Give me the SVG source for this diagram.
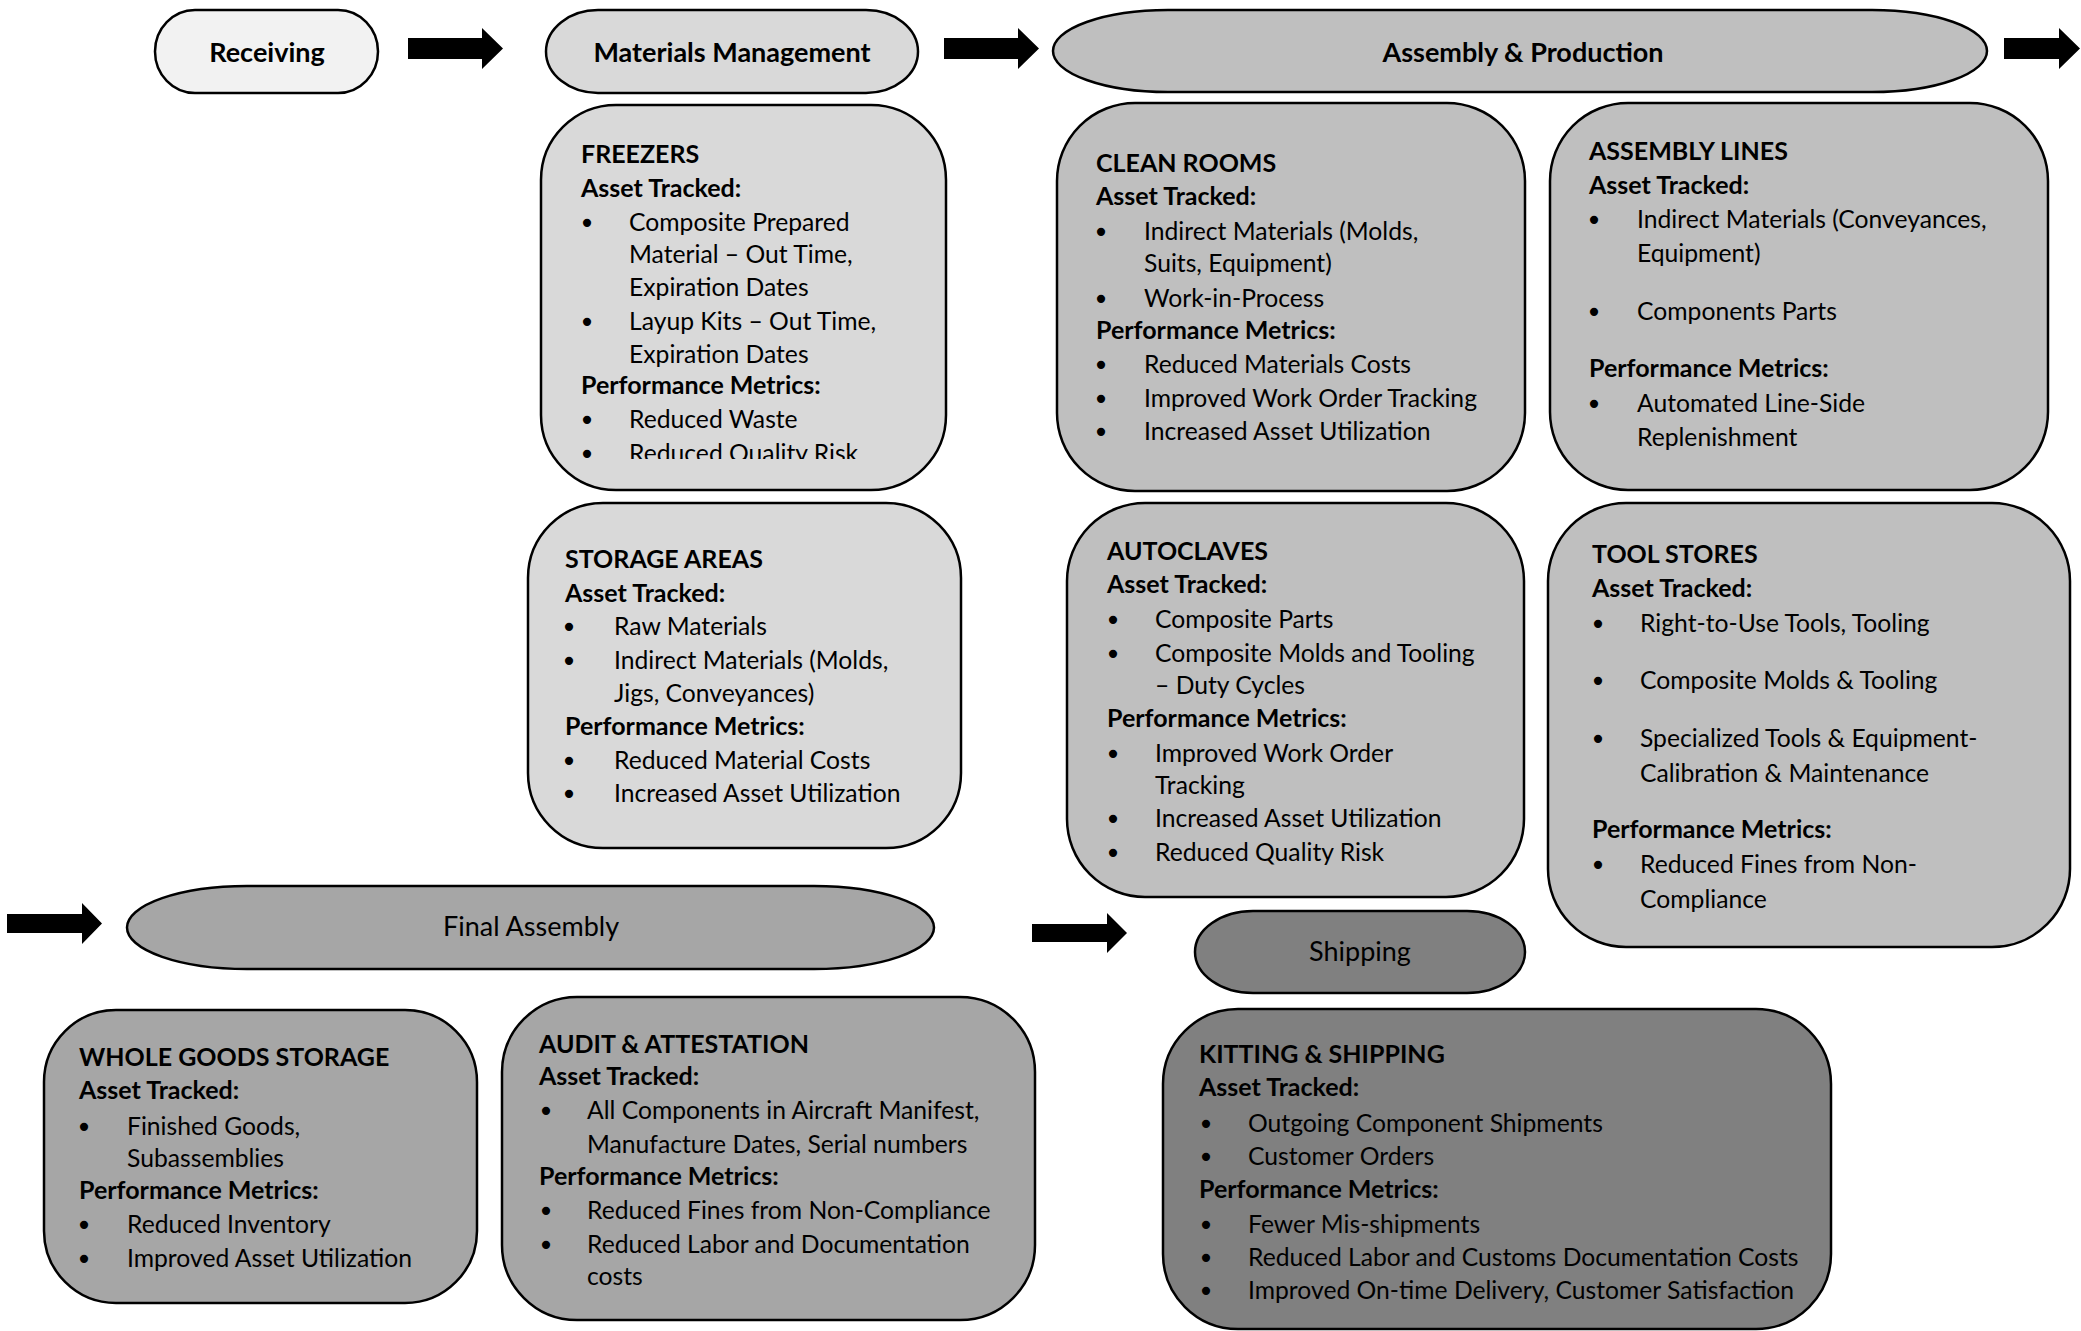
<svg xmlns="http://www.w3.org/2000/svg" width="2081" height="1331" viewBox="0 0 2081 1331">
  <style>
    .box { stroke: #000; stroke-width: 2.5; }
    .f1 { fill: #f2f2f2; }
    .f2 { fill: #d9d9d9; }
    .f3 { fill: #bfbfbf; }
    .f4 { fill: #a6a6a6; }
    .f5 { fill: #808080; }
    text { font-family: Lato, "Open Sans", sans-serif; fill: #000; }
    .t { font-size: 25px; font-weight: 700; }
    .h { font-size: 25px; font-weight: 700; }
    .b { font-size: 24.7px; }
    .dot { font-family: "DejaVu Sans", sans-serif; font-size: 28px; text-anchor: middle; }
    .hdr { font-size: 27px; font-weight: 700; text-anchor: middle; }
    .hdr2 { font-size: 27px; text-anchor: middle; }
    .arrow { fill: #000; }
  </style>
  <defs>
    <clipPath id="freezersClip">
      <rect x="530" y="95" width="430" height="364"/>
    </clipPath>
  </defs>
  <rect width="2081" height="1331" fill="#fff"/>

  <!-- flow arrows -->
  <g id="connectors">
    <path class="arrow" d="M408 38 H482 V28 L503 48.5 L482 69 V59 H408 Z"/>
    <path class="arrow" d="M944 38 H1018 V28 L1039 48.5 L1018 69 V59 H944 Z"/>
    <path class="arrow" d="M2004 38 H2059 V28 L2080 48.5 L2059 69 V59 H2004 Z"/>
    <path class="arrow" d="M7 914 H82 V903 L102 923.5 L82 944 V933 H7 Z"/>
    <path class="arrow" d="M1032 924 H1107 V913 L1127 933 L1107 953 V942 H1032 Z"/>
  </g>

  <!-- stage headers -->
  <g id="receiving">
    <rect class="box f1" x="155" y="10" width="223" height="83" rx="40" ry="41.5"/>
    <text class="hdr" x="267" y="62">Receiving</text>
  </g>
  <g id="materials-management">
    <rect class="box f2" x="546" y="10" width="372" height="83" rx="52" ry="41.5"/>
    <text class="hdr" x="732" y="62">Materials Management</text>
  </g>
  <g id="assembly-production">
    <rect class="box f3" x="1053" y="10" width="934" height="82" rx="115" ry="41"/>
    <text class="hdr" x="1523" y="62">Assembly &amp; Production</text>
  </g>
  <g id="final-assembly">
    <rect class="box f4" x="127" y="886" width="807" height="83" rx="120" ry="41.5"/>
    <text class="hdr2" x="531" y="936">Final Assembly</text>
  </g>
  <g id="shipping">
    <rect class="box f5" x="1195" y="911" width="330" height="82" rx="58" ry="41"/>
    <text class="hdr2" x="1360" y="961">Shipping</text>
  </g>

  <!-- detail boxes -->
  <g id="freezers">
    <rect class="box f2" x="541" y="105" width="405" height="385" rx="75" ry="75"/>
    <g clip-path="url(#freezersClip)">
      <text class="t" x="581" y="163">FREEZERS</text>
      <text class="h" x="581" y="197">Asset Tracked:</text>
      <text class="dot" x="587" y="233">•</text>
      <text class="b" x="629" y="231">Composite Prepared</text>
      <text class="b" x="629" y="263">Material – Out Time,</text>
      <text class="b" x="629" y="296">Expiration Dates</text>
      <text class="dot" x="587" y="332">•</text>
      <text class="b" x="629" y="330">Layup Kits – Out Time,</text>
      <text class="b" x="629" y="363">Expiration Dates</text>
      <text class="h" x="581" y="394">Performance Metrics:</text>
      <text class="dot" x="587" y="430">•</text>
      <text class="b" x="629" y="428">Reduced Waste</text>
      <text class="dot" x="587" y="463.5">•</text>
      <text class="b" x="629" y="461.5">Reduced Quality Risk</text>
    </g>
  </g>

  <g id="storage-areas">
    <rect class="box f2" x="528" y="503" width="433" height="345" rx="75" ry="75"/>
    <text class="t" x="565" y="568">STORAGE AREAS</text>
    <text class="h" x="565" y="602">Asset Tracked:</text>
    <text class="dot" x="569" y="637">•</text>
    <text class="b" x="614" y="635">Raw Materials</text>
    <text class="dot" x="569" y="671">•</text>
    <text class="b" x="614" y="669">Indirect Materials (Molds,</text>
    <text class="b" x="614" y="702">Jigs, Conveyances)</text>
    <text class="h" x="565" y="735">Performance Metrics:</text>
    <text class="dot" x="569" y="771">•</text>
    <text class="b" x="614" y="769">Reduced Material Costs</text>
    <text class="dot" x="569" y="804">•</text>
    <text class="b" x="614" y="802">Increased Asset Utilization</text>
  </g>

  <g id="clean-rooms">
    <rect class="box f3" x="1057" y="103" width="468" height="388" rx="78" ry="78"/>
    <text class="t" x="1096" y="172">CLEAN ROOMS</text>
    <text class="h" x="1096" y="205">Asset Tracked:</text>
    <text class="dot" x="1101" y="242">•</text>
    <text class="b" x="1144" y="240">Indirect Materials (Molds,</text>
    <text class="b" x="1144" y="272">Suits, Equipment)</text>
    <text class="dot" x="1101" y="309">•</text>
    <text class="b" x="1144" y="307">Work-in-Process</text>
    <text class="h" x="1096" y="339">Performance Metrics:</text>
    <text class="dot" x="1101" y="375">•</text>
    <text class="b" x="1144" y="373">Reduced Materials Costs</text>
    <text class="dot" x="1101" y="409">•</text>
    <text class="b" x="1144" y="407">Improved Work Order Tracking</text>
    <text class="dot" x="1101" y="442">•</text>
    <text class="b" x="1144" y="440">Increased Asset Utilization</text>
  </g>

  <g id="assembly-lines">
    <rect class="box f3" x="1550" y="103" width="498" height="387" rx="78" ry="78"/>
    <text class="t" x="1589" y="160">ASSEMBLY LINES</text>
    <text class="h" x="1589" y="194">Asset Tracked:</text>
    <text class="dot" x="1594" y="230">•</text>
    <text class="b" x="1637" y="228">Indirect Materials (Conveyances,</text>
    <text class="b" x="1637" y="262">Equipment)</text>
    <text class="dot" x="1594" y="322">•</text>
    <text class="b" x="1637" y="320">Components Parts</text>
    <text class="h" x="1589" y="377">Performance Metrics:</text>
    <text class="dot" x="1594" y="414">•</text>
    <text class="b" x="1637" y="412">Automated Line-Side</text>
    <text class="b" x="1637" y="446">Replenishment</text>
  </g>

  <g id="autoclaves">
    <rect class="box f3" x="1067" y="503" width="457" height="394" rx="78" ry="78"/>
    <text class="t" x="1107" y="560">AUTOCLAVES</text>
    <text class="h" x="1107" y="593">Asset Tracked:</text>
    <text class="dot" x="1113" y="630">•</text>
    <text class="b" x="1155" y="628">Composite Parts</text>
    <text class="dot" x="1113" y="664">•</text>
    <text class="b" x="1155" y="662">Composite Molds and Tooling</text>
    <text class="b" x="1155" y="694">– Duty Cycles</text>
    <text class="h" x="1107" y="727">Performance Metrics:</text>
    <text class="dot" x="1113" y="764">•</text>
    <text class="b" x="1155" y="762">Improved Work Order</text>
    <text class="b" x="1155" y="794">Tracking</text>
    <text class="dot" x="1113" y="829">•</text>
    <text class="b" x="1155" y="827">Increased Asset Utilization</text>
    <text class="dot" x="1113" y="863">•</text>
    <text class="b" x="1155" y="861">Reduced Quality Risk</text>
  </g>

  <g id="tool-stores">
    <rect class="box f3" x="1548" y="503" width="522" height="444" rx="78" ry="78"/>
    <text class="t" x="1592" y="563">TOOL STORES</text>
    <text class="h" x="1592" y="597">Asset Tracked:</text>
    <text class="dot" x="1598" y="634">•</text>
    <text class="b" x="1640" y="632">Right-to-Use Tools, Tooling</text>
    <text class="dot" x="1598" y="691">•</text>
    <text class="b" x="1640" y="689">Composite Molds &amp; Tooling</text>
    <text class="dot" x="1598" y="749">•</text>
    <text class="b" x="1640" y="747">Specialized Tools &amp; Equipment-</text>
    <text class="b" x="1640" y="782">Calibration &amp; Maintenance</text>
    <text class="h" x="1592" y="838">Performance Metrics:</text>
    <text class="dot" x="1598" y="875">•</text>
    <text class="b" x="1640" y="873">Reduced Fines from Non-</text>
    <text class="b" x="1640" y="908">Compliance</text>
  </g>

  <g id="whole-goods-storage">
    <rect class="box f4" x="44" y="1010" width="433" height="293" rx="72" ry="72"/>
    <text class="t" x="79" y="1066">WHOLE GOODS STORAGE</text>
    <text class="h" x="79" y="1099">Asset Tracked:</text>
    <text class="dot" x="84" y="1137">•</text>
    <text class="b" x="127" y="1135">Finished Goods,</text>
    <text class="b" x="127" y="1167">Subassemblies</text>
    <text class="h" x="79" y="1199">Performance Metrics:</text>
    <text class="dot" x="84" y="1235">•</text>
    <text class="b" x="127" y="1233">Reduced Inventory</text>
    <text class="dot" x="84" y="1269">•</text>
    <text class="b" x="127" y="1267">Improved Asset Utilization</text>
  </g>

  <g id="audit-attestation">
    <rect class="box f4" x="502" y="997" width="533" height="323" rx="75" ry="75"/>
    <text class="t" x="539" y="1053">AUDIT &amp; ATTESTATION</text>
    <text class="h" x="539" y="1085">Asset Tracked:</text>
    <text class="dot" x="546" y="1121">•</text>
    <text class="b" x="587" y="1119">All Components in Aircraft Manifest,</text>
    <text class="b" x="587" y="1153">Manufacture Dates, Serial numbers</text>
    <text class="h" x="539" y="1185">Performance Metrics:</text>
    <text class="dot" x="546" y="1221">•</text>
    <text class="b" x="587" y="1219">Reduced Fines from Non-Compliance</text>
    <text class="dot" x="546" y="1255">•</text>
    <text class="b" x="587" y="1253">Reduced Labor and Documentation</text>
    <text class="b" x="587" y="1285">costs</text>
  </g>

  <g id="kitting-shipping">
    <rect class="box f5" x="1163" y="1009" width="668" height="320" rx="75" ry="75"/>
    <text class="t" x="1199" y="1063">KITTING &amp; SHIPPING</text>
    <text class="h" x="1199" y="1096">Asset Tracked:</text>
    <text class="dot" x="1206" y="1134">•</text>
    <text class="b" x="1248" y="1132">Outgoing Component Shipments</text>
    <text class="dot" x="1206" y="1167">•</text>
    <text class="b" x="1248" y="1165">Customer Orders</text>
    <text class="h" x="1199" y="1198">Performance Metrics:</text>
    <text class="dot" x="1206" y="1235">•</text>
    <text class="b" x="1248" y="1233">Fewer Mis-shipments</text>
    <text class="dot" x="1206" y="1268">•</text>
    <text class="b" x="1248" y="1266">Reduced Labor and Customs Documentation Costs</text>
    <text class="dot" x="1206" y="1301">•</text>
    <text class="b" x="1248" y="1299">Improved On-time Delivery, Customer Satisfaction</text>
  </g>
</svg>
